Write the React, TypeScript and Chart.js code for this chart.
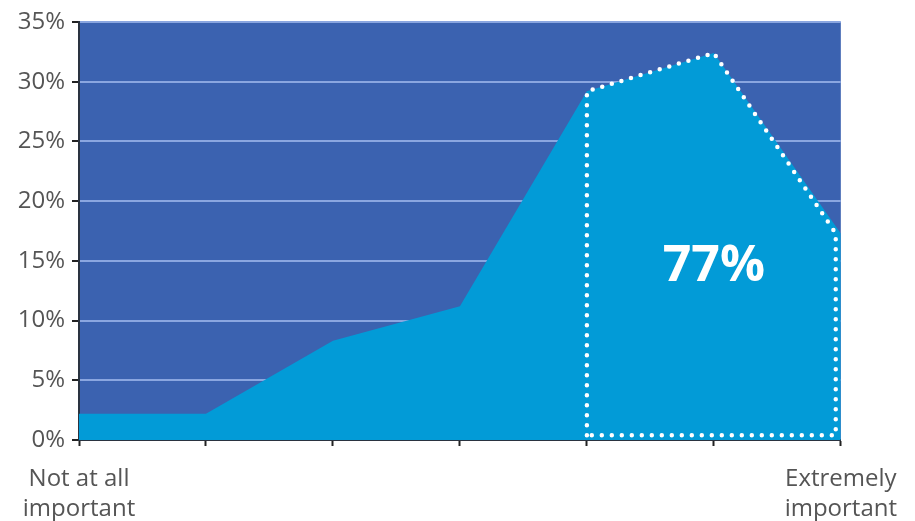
import React, { useEffect, useRef } from "react";
import { Chart, registerables } from "chart.js";

Chart.register(...registerables);

// Importance scale positions (0 = not at all important, 6 = extremely important)
const categories = [0, 1, 2, 3, 4, 5, 6];
const importanceValues = [2.2, 2.2, 8.3, 11.2, 29.2, 32.4, 17.3];
const xEndLabels: Record<number, string[]> = {
  0: ["Not at all", "important"],
  6: ["Extremely", "important"],
};
// Dotted outline around the top-three share
const outlineX = [4.0, 4.0, 5.0, 5.96, 5.96, 4.0];
const outlineY = [0.4, 29.2, 32.4, 17.3, 0.4, 0.4];
const highlightLabel = "77%";
const highlightAt = { x: 5, y: 14.5 };
const yTicks = [0, 5, 10, 15, 20, 25, 30, 35];

const FONT = "'Open Sans', 'Noto Sans', sans-serif";

const plotBg = {
  id: "plotBg",
  beforeDraw(chart: any) {
    const { ctx, chartArea: a } = chart;
    ctx.save();
    ctx.fillStyle = "#3b62b0";
    ctx.fillRect(a.left, a.top, a.right - a.left, a.bottom - a.top);
    ctx.restore();
  },
};

const highlightText = {
  id: "highlightText",
  afterDatasetsDraw(chart: any) {
    const { ctx, scales } = chart;
    const x = scales.x.getPixelForValue(highlightAt.x);
    const y = scales.y.getPixelForValue(highlightAt.y);
    ctx.save();
    ctx.fillStyle = "#ffffff";
    ctx.font = `bold 50px ${FONT}`;
    ctx.textAlign = "center";
    ctx.textBaseline = "middle";
    ctx.fillText(highlightLabel, x, y);
    ctx.restore();
  },
};

export default function App() {
  const ref = useRef<HTMLCanvasElement>(null);

  useEffect(() => {
    document.body.style.margin = "0";
    const chart = new Chart(ref.current!, {
      type: "line",
      data: {
        datasets: [
          {
            label: "outline",
            data: outlineX.map((x, i) => ({ x, y: outlineY[i] })),
            borderColor: "#ffffff",
            borderWidth: 4.5,
            borderDash: [0, 10],
            borderCapStyle: "round",
            pointRadius: 0,
            fill: false,
            tension: 0,
            order: 0,
          },
          {
            label: "importance",
            data: categories.map((x, i) => ({ x, y: importanceValues[i] })),
            backgroundColor: "#029bd7",
            borderWidth: 0,
            borderColor: "rgba(0,0,0,0)",
            pointRadius: 0,
            fill: "origin",
            tension: 0,
            order: 1,
          },
        ],
      },
      options: {
        animation: false,
        responsive: false,
        maintainAspectRatio: false,
        layout: { padding: { left: 0, right: 66, top: 22, bottom: 0 } },
        plugins: { legend: { display: false }, tooltip: { enabled: false } },
        scales: {
          x: {
            type: "linear",
            min: 0,
            max: 6,
            afterBuildTicks: (axis: any) => {
              axis.ticks = categories.map((v) => ({ value: v }));
            },
            afterFit: (axis: any) => {
              axis.height = 81;
            },
            grid: {
              drawOnChartArea: false,
              drawTicks: true,
              tickLength: 6,
              tickColor: "#222222",
              tickWidth: 2,
            },
            border: { display: true, color: "#2a3340", width: 2 },
            ticks: {
              autoSkip: false,
              maxRotation: 0,
              padding: 18,
              color: "#555555",
              font: { family: FONT, size: 24, lineHeight: 1.25 },
              callback: (v: any) => xEndLabels[v] ?? "",
            },
          },
          y: {
            min: 0,
            max: 35,
            afterBuildTicks: (axis: any) => {
              axis.ticks = yTicks.map((v) => ({ value: v }));
            },
            afterFit: (axis: any) => {
              axis.width = 79;
            },
            grid: {
              color: "#8aa6e0",
              lineWidth: 2,
              drawTicks: true,
              tickLength: 7,
              tickColor: "#222222",
              tickWidth: 2,
            },
            border: { display: true, color: "#2a3340", width: 2 },
            ticks: {
              padding: 7,
              color: "#555555",
              font: { family: FONT, size: 24 },
              callback: (v: any) => `${v}%`,
            },
          },
        },
      },
      plugins: [plotBg, highlightText],
    } as any);
    return () => chart.destroy();
  }, []);

  return (
    <div style={{ position: "fixed", left: 0, top: 0, width: 915, height: 521, background: "#fff" }}>
      <canvas ref={ref} width={915} height={521} style={{ width: 915, height: 521 }} />
    </div>
  );
}
